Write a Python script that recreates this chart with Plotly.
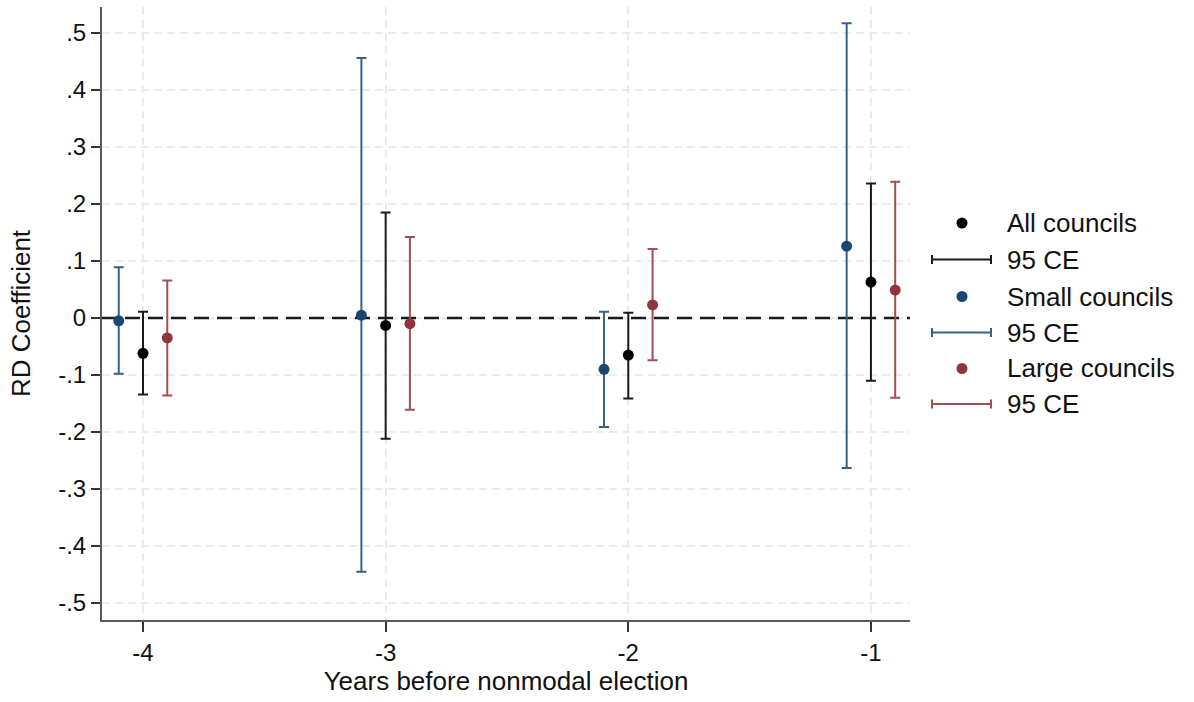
import plotly.graph_objects as go

# Years before the nonmodal election
years = [-4, -3, -2, -1]

# RD coefficients with 95% confidence bounds
all_coef = [-0.062, -0.013, -0.065, 0.063]
all_lo = [-0.134, -0.212, -0.141, -0.110]
all_hi = [0.011, 0.185, 0.009, 0.236]

small_coef = [-0.005, 0.005, -0.090, 0.126]
small_lo = [-0.098, -0.445, -0.191, -0.263]
small_hi = [0.089, 0.456, 0.011, 0.517]

large_coef = [-0.035, -0.010, 0.023, 0.049]
large_lo = [-0.136, -0.161, -0.074, -0.140]
large_hi = [0.066, 0.142, 0.121, 0.239]

y_ticks = [-0.5, -0.4, -0.3, -0.2, -0.1, 0, 0.1, 0.2, 0.3, 0.4, 0.5]
y_tick_text = ["-.5", "-.4", "-.3", "-.2", "-.1", "0", ".1", ".2", ".3", ".4", ".5"]

legend_labels = ["All councils", "95 CE", "Small councils", "95 CE", "Large councils", "95 CE"]

X_RANGE = [-4.169, -0.839]
Y_RANGE = [-0.5298, 0.5456]

BLACK = "#000000"
NAVY = "#1a476f"
NAVY_CI = "#35628c"
MAROON = "#90353b"
MAROON_CI = "#a54d55"
FONT = "Liberation Sans, Arial, sans-serif"

W, H = 1194, 702
L, R, T, B = 102, 910, 7, 620


def px_x(px):
    return (px - L) / (R - L)


def px_y(py):
    return (B - py) / (B - T)


series = [
    (small_coef, small_lo, small_hi, -0.1, NAVY, NAVY_CI),
    (all_coef, all_lo, all_hi, 0.0, BLACK, "#1a1a1a"),
    (large_coef, large_lo, large_hi, 0.1, MAROON, MAROON_CI),
]

fig = go.Figure()

# Dashed reference line at zero across the whole plot, under the markers
fig.add_trace(go.Scatter(
    x=X_RANGE, y=[0, 0], mode="lines",
    line=dict(color="#1a1a1a", width=2.5, dash="15px,8px"),
    showlegend=False, hoverinfo="skip", cliponaxis=False,
))

for coef, lo, hi, off, mcol, ccol in series:
    xs = [yr + off for yr in years]
    fig.add_trace(go.Scatter(
        x=xs, y=coef, mode="markers",
        marker=dict(color=mcol, size=11, line=dict(width=0)),
        error_y=dict(type="data", symmetric=False,
                     array=[h - c for h, c in zip(hi, coef)],
                     arrayminus=[c - l for c, l in zip(coef, lo)],
                     color=ccol, thickness=2, width=5),
        showlegend=False, hoverinfo="skip",
    ))

# Legend: markers and capped lines drawn by hand
row_y = [223, 259.5, 296.5, 332.5, 368.5, 404]
colors = [BLACK, "#1a1a1a", NAVY, NAVY_CI, MAROON, MAROON_CI]
for i, (label, py, col) in enumerate(zip(legend_labels, row_y, colors)):
    if i % 2 == 0:
        r = 5.5
        fig.add_shape(type="circle", xref="paper", yref="paper",
                      x0=px_x(962 - r), x1=px_x(962 + r),
                      y0=px_y(py + r), y1=px_y(py - r),
                      fillcolor=col, line=dict(width=0))
    else:
        fig.add_shape(type="line", xref="paper", yref="paper",
                      x0=px_x(932), x1=px_x(991), y0=px_y(py), y1=px_y(py),
                      line=dict(color=col, width=2))
        for cx in (932, 991):
            fig.add_shape(type="line", xref="paper", yref="paper",
                          x0=px_x(cx), x1=px_x(cx), y0=px_y(py - 4.5), y1=px_y(py + 4.5),
                          line=dict(color=col, width=2))
    fig.add_annotation(x=px_x(1005), y=px_y(py), xref="paper", yref="paper",
                       text=label, showarrow=False, xanchor="left", yanchor="middle",
                       font=dict(family=FONT, size=26, color="#111111"))

fig.update_layout(
    width=W, height=H,
    margin=dict(l=L, r=W - R, t=T, b=H - B),
    paper_bgcolor="white", plot_bgcolor="white",
    font=dict(family=FONT, color="#111111"),
    showlegend=False,
)

fig.update_xaxes(
    range=X_RANGE, tickvals=years, ticktext=[str(v) for v in years],
    showgrid=True, gridcolor="#ebebeb", gridwidth=1.5, griddash="8px,5px",
    zeroline=False, showline=True, linecolor="#5a5a5a", linewidth=2,
    ticks="outside", ticklen=10, tickwidth=2, tickcolor="#333333",
    tickfont=dict(size=24, family=FONT, color="#111111"),
    title=dict(text="Years before nonmodal election", standoff=6,
               font=dict(size=26, family=FONT, color="#111111")),
)
fig.update_yaxes(
    range=Y_RANGE, tickvals=y_ticks, ticktext=y_tick_text,
    showgrid=True, gridcolor="#ebebeb", gridwidth=1.5, griddash="8px,5px",
    zeroline=False, showline=True, linecolor="#5a5a5a", linewidth=2,
    ticks="outside", ticklen=9, tickwidth=2, tickcolor="#333333",
    tickfont=dict(size=24, family=FONT, color="#111111"),
    title=dict(text="RD Coefficient", standoff=20,
               font=dict(size=26, family=FONT, color="#111111")),
)

fig.write_html("out.html")
